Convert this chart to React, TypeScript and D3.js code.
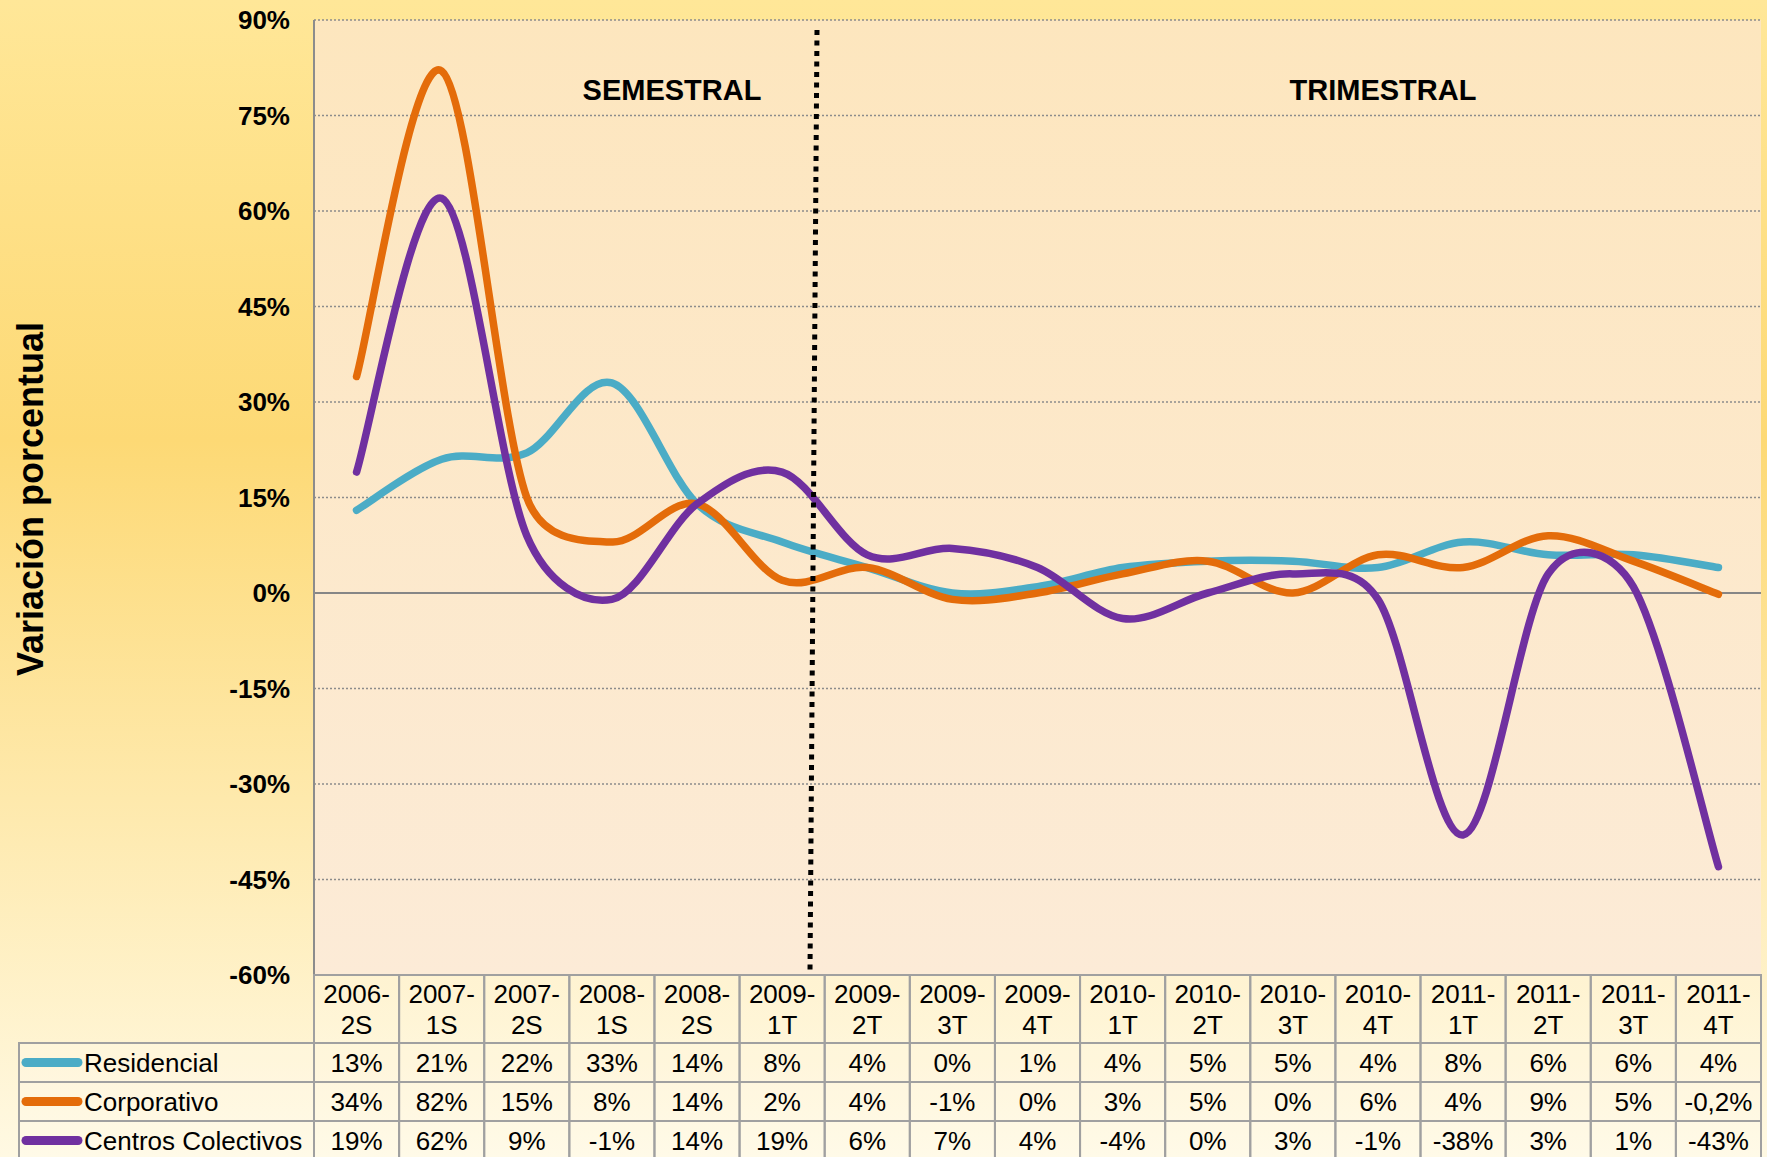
import React from 'react';
import * as d3 from 'd3';

const categories = [
  '2006-2S', '2007-1S', '2007-2S', '2008-1S', '2008-2S', '2009-1T', '2009-2T', '2009-3T', '2009-4T',
  '2010-1T', '2010-2T', '2010-3T', '2010-4T', '2011-1T', '2011-2T', '2011-3T', '2011-4T',
];
const residencial = [13, 21, 22, 33, 14, 8, 4, 0, 1, 4, 5, 5, 4, 8, 6, 6, 4];
const corporativo = [34, 82, 15, 8, 14, 2, 4, -1, 0, 3, 5, 0, 6, 4, 9, 5, -0.2];
const centrosColectivos = [19, 62, 9, -1, 14, 19, 6, 7, 4, -4, 0, 3, -1, -38, 3, 1, -43];
const yTicks = [-60, -45, -30, -15, 0, 15, 30, 45, 60, 75, 90];

const series = [
  { name: 'Residencial', values: residencial, color: '#4BACC6' },
  { name: 'Corporativo', values: corporativo, color: '#E46C0A' },
  { name: 'Centros Colectivos', values: centrosColectivos, color: '#7030A0' },
];

const W = 1767;
const H = 1157;
const PLOT = { left: 314, right: 1761, top: 20, bottom: 975 };
const HEADER_H = 68;
const ROW_H = 39;
const LEGEND_LEFT = 19;
const FONT = '"Liberation Sans", Arial, sans-serif';

const fmt = (v: number) => (Number.isInteger(v) ? `${v}%` : `${String(v).replace('.', ',')}%`);

// Excel-style smoothed line: Catmull-Rom bezier whose handles are capped at half the segment
function smoothPath(pts: [number, number][]) {
  const p = d3.path();
  const n = pts.length;
  p.moveTo(pts[0][0], pts[0][1]);
  const cap = (v: [number, number], max: number): [number, number] => {
    const len = Math.hypot(v[0], v[1]);
    return len > max && len > 0 ? [v[0] * max / len, v[1] * max / len] : v;
  };
  for (let i = 0; i < n - 1; i++) {
    const p0 = pts[Math.max(i - 1, 0)];
    const p1 = pts[i];
    const p2 = pts[i + 1];
    const p3 = pts[Math.min(i + 2, n - 1)];
    const half = Math.hypot(p2[0] - p1[0], p2[1] - p1[1]) / 2;
    const v1 = cap([(p2[0] - p0[0]) / 6, (p2[1] - p0[1]) / 6], half);
    const v2 = cap([(p3[0] - p1[0]) / 6, (p3[1] - p1[1]) / 6], half);
    p.bezierCurveTo(p1[0] + v1[0], p1[1] + v1[1], p2[0] - v2[0], p2[1] - v2[1], p2[0], p2[1]);
  }
  return p.toString();
}

export default function App() {
  const x = d3.scaleBand<string>().domain(categories).range([PLOT.left, PLOT.right]);
  const y = d3.scaleLinear().domain([-60, 90]).range([PLOT.bottom, PLOT.top]);
  const cx = (c: string) => (x(c) as number) + x.bandwidth() / 2;

  const tableTop = PLOT.bottom;
  const rowsTop = tableTop + HEADER_H;
  const border = '#A0A0A0';

  return (
    <svg width={W} height={H} style={{ position: 'absolute', left: 0, top: 0, display: 'block' }} fontFamily={FONT}>
      <defs>
        <linearGradient id="pageBg" x1="0" y1="0" x2="0" y2="1">
          <stop offset="0" stopColor="#FFE798" />
          <stop offset="0.38" stopColor="#FDD975" />
          <stop offset="1" stopColor="#FFF9E3" />
        </linearGradient>
        <linearGradient id="plotBg" x1="0" y1="0" x2="0" y2="1">
          <stop offset="0" stopColor="#FDE6BE" />
          <stop offset="1" stopColor="#FCEBD7" />
        </linearGradient>
      </defs>
      <rect x={0} y={0} width={W} height={H} fill="url(#pageBg)" />
      <rect x={PLOT.left} y={PLOT.top} width={PLOT.right - PLOT.left} height={PLOT.bottom - PLOT.top} fill="url(#plotBg)" />

      {/* gridlines */}
      {yTicks.filter(t => t !== 0 && t !== -60).map(t => (
        <line key={t} x1={PLOT.left} x2={PLOT.right} y1={y(t)} y2={y(t)}
          stroke="#8C8C8C" strokeWidth={1.6} strokeDasharray="2 2" />
      ))}
      <line x1={PLOT.left} x2={PLOT.right} y1={y(0)} y2={y(0)} stroke="#868686" strokeWidth={2} />
      <line x1={PLOT.left} x2={PLOT.left} y1={PLOT.top} y2={PLOT.bottom} stroke="#8C8C8C" strokeWidth={2} />

      {/* y tick labels */}
      {yTicks.map(t => (
        <text key={t} x={290} y={y(t)} dy="0.36em" textAnchor="end" fontSize={26} fontWeight="bold" fill="#000">
          {`${t}%`}
        </text>
      ))}
      <text transform={`translate(43,499) rotate(-90)`} textAnchor="middle" fontSize={36} fontWeight="bold" fill="#000">
        Variación porcentual
      </text>

      {/* section labels */}
      <text x={672} y={100} textAnchor="middle" fontSize={29} fontWeight="bold">SEMESTRAL</text>
      <text x={1383} y={100} textAnchor="middle" fontSize={29} fontWeight="bold">TRIMESTRAL</text>

      {/* series */}
      {series.map(s => (
        <path key={s.name}
          d={smoothPath(s.values.map((v, i) => [cx(categories[i]), y(v)] as [number, number]))}
          fill="none" stroke={s.color} strokeWidth={7.5} strokeLinecap="round" strokeLinejoin="round" />
      ))}

      {/* divider */}
      <line x1={817} y1={30} x2={810} y2={972} stroke="#000" strokeWidth={5} strokeDasharray="5 5.5" />

      {/* data table */}
      <g>
        {categories.map(c => {
          const [a, b] = c.split('-');
          const left = x(c) as number;
          return (
            <g key={c}>
              <rect x={left} y={tableTop} width={x.bandwidth()} height={HEADER_H}
                fill="#FFFFFF" fillOpacity={0.18} stroke={border} strokeWidth={2} />
              <text x={cx(c)} y={tableTop + 28} textAnchor="middle" fontSize={26}>{`${a}-`}</text>
              <text x={cx(c)} y={tableTop + 59} textAnchor="middle" fontSize={26}>{b}</text>
            </g>
          );
        })}
        {series.map((s, r) => {
          const top = rowsTop + r * ROW_H;
          return (
            <g key={s.name}>
              <rect x={LEGEND_LEFT} y={top} width={PLOT.left - LEGEND_LEFT} height={ROW_H}
                fill="#FFFFFF" fillOpacity={0.18} stroke={border} strokeWidth={2} />
              <line x1={26} x2={78} y1={top + ROW_H / 2} y2={top + ROW_H / 2}
                stroke={s.color} strokeWidth={9} strokeLinecap="round" />
              <text x={84} y={top + ROW_H / 2} dy="0.36em" fontSize={26}>{s.name}</text>
              {s.values.map((v, i) => (
                <g key={i}>
                  <rect x={x(categories[i]) as number} y={top} width={x.bandwidth()} height={ROW_H}
                    fill="#FFFFFF" fillOpacity={0.18} stroke={border} strokeWidth={2} />
                  <text x={cx(categories[i])} y={top + ROW_H / 2} dy="0.36em" textAnchor="middle" fontSize={26}>
                    {fmt(v)}
                  </text>
                </g>
              ))}
            </g>
          );
        })}
      </g>
    </svg>
  );
}
